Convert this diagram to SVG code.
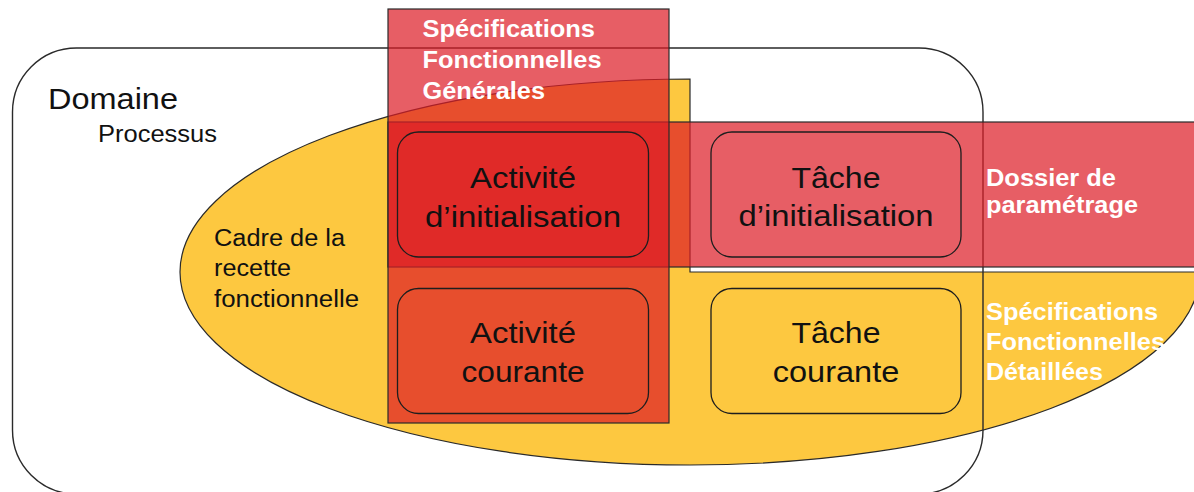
<svg xmlns="http://www.w3.org/2000/svg" width="1194" height="492" viewBox="0 0 1194 492">
<style>
.ov{fill:rgb(221,28,38);fill-opacity:0.71;stroke:#2a2a2a;stroke-width:1.2}
.box{fill:none;stroke:#1e1e1e;stroke-width:1.3}
.t{font-family:"Liberation Sans",Arial,sans-serif;fill:#111}
.w{font-family:"Liberation Sans",Arial,sans-serif;font-weight:bold;fill:#ffffff;font-size:23px}
.big{font-size:30px}
</style>
<rect width="1194" height="492" fill="#ffffff"/>
<g id="domaine-bg">
<rect x="12.5" y="48" width="970.5" height="446" rx="64" ry="64" fill="#ffffff"/>
</g>
<g id="cadre">
<path d="M 690 272 H 1200 A 510 193 0 1 1 690 79 Z" fill="#FDC840" stroke="#2a2a2a" stroke-width="1.2"/>
<text class="t" font-size="23" x="214" y="246" textLength="131" lengthAdjust="spacingAndGlyphs">Cadre de la</text>
<text class="t" font-size="23" x="214" y="276" textLength="77" lengthAdjust="spacingAndGlyphs">recette</text>
<text class="t" font-size="23" x="214" y="307" textLength="145" lengthAdjust="spacingAndGlyphs">fonctionnelle</text>
</g>
<g id="domaine">
<rect x="12.5" y="48" width="970.5" height="446" rx="64" ry="64" fill="none" stroke="#2a2a2a" stroke-width="1.4"/>
<text class="t" font-size="29" x="48" y="109" textLength="130" lengthAdjust="spacingAndGlyphs">Domaine</text>
<text class="t" font-size="24" x="98" y="141.5" textLength="119" lengthAdjust="spacingAndGlyphs">Processus</text>
</g>
<g id="dossier">
<rect class="ov" x="388" y="122" width="820" height="145"/>
<text class="w" x="986" y="186" textLength="130" lengthAdjust="spacingAndGlyphs">Dossier de</text>
<text class="w" x="986" y="213" textLength="152" lengthAdjust="spacingAndGlyphs">paramétrage</text>
</g>
<g id="sfg">
<rect class="ov" x="388" y="9" width="281" height="414"/>
<text class="w" x="422.5" y="36.5" textLength="172.5" lengthAdjust="spacingAndGlyphs">Spécifications</text>
<text class="w" x="422.5" y="68" textLength="179" lengthAdjust="spacingAndGlyphs">Fonctionnelles</text>
<text class="w" x="422.5" y="99" textLength="122.5" lengthAdjust="spacingAndGlyphs">Générales</text>
</g>
<g id="sfd">
<text class="w" x="986" y="320" textLength="172" lengthAdjust="spacingAndGlyphs">Spécifications</text>
<text class="w" x="986" y="350" textLength="179" lengthAdjust="spacingAndGlyphs">Fonctionnelles</text>
<text class="w" x="986" y="380" textLength="117" lengthAdjust="spacingAndGlyphs">Détaillées</text>
</g>
<g id="activite-init">
<rect class="box" x="397.5" y="132" width="251" height="125" rx="21"/>
<text class="t big" x="523" y="188" text-anchor="middle" textLength="106" lengthAdjust="spacingAndGlyphs">Activité</text>
<text class="t big" x="523" y="226.5" text-anchor="middle" textLength="196" lengthAdjust="spacingAndGlyphs">d’initialisation</text>
</g>
<g id="tache-init">
<rect class="box" x="711" y="132" width="250" height="125" rx="21"/>
<text class="t big" x="836" y="187.7" text-anchor="middle" textLength="89" lengthAdjust="spacingAndGlyphs">Tâche</text>
<text class="t big" x="836" y="225.7" text-anchor="middle" textLength="195" lengthAdjust="spacingAndGlyphs">d’initialisation</text>
</g>
<g id="activite-courante">
<rect class="box" x="397.5" y="288.5" width="251" height="125" rx="21"/>
<text class="t big" x="523" y="343.3" text-anchor="middle" textLength="106" lengthAdjust="spacingAndGlyphs">Activité</text>
<text class="t big" x="523" y="381.7" text-anchor="middle" textLength="123" lengthAdjust="spacingAndGlyphs">courante</text>
</g>
<g id="tache-courante">
<rect class="box" x="711" y="288.5" width="250" height="125" rx="21"/>
<text class="t big" x="836" y="343" text-anchor="middle" textLength="89" lengthAdjust="spacingAndGlyphs">Tâche</text>
<text class="t big" x="836" y="381.7" text-anchor="middle" textLength="126.5" lengthAdjust="spacingAndGlyphs">courante</text>
</g>
<g id="connectors"></g>
</svg>
